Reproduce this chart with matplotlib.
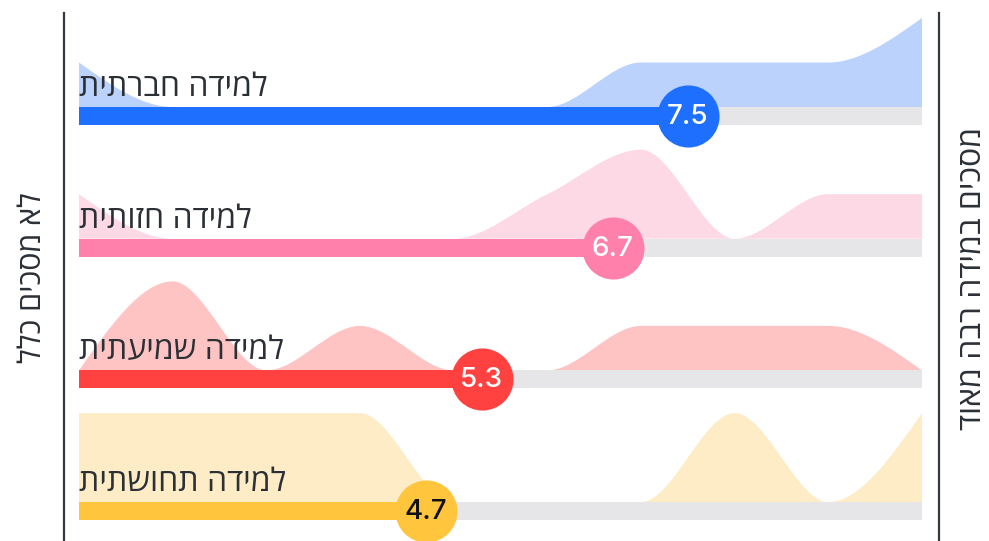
import numpy as np
import matplotlib
matplotlib.use("Agg")
from matplotlib import pyplot as plt
from matplotlib.path import Path
from matplotlib.patches import PathPatch

# scale 1..10, number of answers per score
scores = [1, 2, 3, 4, 5, 6, 7, 8, 9, 10]
labels = ["למידה חברתית", "למידה חזותית", "למידה שמיעתית", "למידה תחושתית"]
counts_social = [1, 0, 0, 0, 0, 0, 1, 1, 1, 2]
counts_visual = [1, 0, 0, 0, 0, 1, 2, 0, 1, 1]
counts_audio = [0, 2, 0, 1, 0, 0, 1, 1, 1, 0]
counts_touch = [2, 2, 2, 2, 0, 0, 0, 2, 0, 2]
means = [7.5, 6.7, 5.3, 4.7]
left_title = "לא מסכים כלל"
right_title = "מסכים במידה רבה מאוד"

bar_colors = ["#1f6ffe", "#ff80aa", "#ff4240", "#ffc53d"]
area_colors = ["#bad2fc", "#fdd8e5", "#fec4c4", "#fdecc5"]
num_colors = ["white", "white", "white", "#111111"]
heb_font = ["Open Sans", "DejaVu Sans"]


def rtl(s):
    # matplotlib has no bidi, so put hebrew in visual order
    return s[::-1]


def monotone_path(x, y):
    # same shape as d3.curveMonotoneX
    x = np.asarray(x, float)
    y = np.asarray(y, float)
    n = len(x)
    h = np.diff(x)
    s = np.diff(y) / h
    t = np.zeros(n)
    for i in range(1, n - 1):
        p = (s[i - 1] * h[i] + s[i] * h[i - 1]) / (h[i - 1] + h[i])
        t[i] = (np.sign(s[i - 1]) + np.sign(s[i])) * min(abs(s[i - 1]), abs(s[i]), 0.5 * abs(p))
    t[0] = (3 * s[0] - t[1]) / 2
    t[-1] = (3 * s[-1] - t[-2]) / 2
    verts = [(x[0], y[0])]
    codes = [Path.MOVETO]
    for i in range(n - 1):
        d = h[i] / 3
        verts += [(x[i] + d, y[i] + d * t[i]), (x[i + 1] - d, y[i + 1] - d * t[i + 1]), (x[i + 1], y[i + 1])]
        codes += [Path.CURVE4] * 3
    return verts, codes


fig = plt.figure(figsize=(9.89, 5.41), dpi=100)
ax = fig.add_axes([0, 0, 1, 1])
px = (922 - 79) / 9
ax.set_xlim(1 - 79 / px, 10 + 67 / px)
ax.set_ylim(541, 0)
ax.axis("off")

all_counts = [counts_social, counts_visual, counts_audio, counts_touch]
row_top = 107
row_gap = 131.7
unit_h = 44.5
bar_h = 18

for i, cnt in enumerate(all_counts):
    base = row_top + i * row_gap
    yy = [base - c * unit_h for c in cnt]
    verts, codes = monotone_path(scores, yy)
    verts += [(scores[-1], base), (scores[0], base), (scores[0], yy[0])]
    codes += [Path.LINETO, Path.LINETO, Path.CLOSEPOLY]
    ax.add_patch(PathPatch(Path(verts, codes), facecolor=area_colors[i], edgecolor="none", zorder=1))

    ax.barh(base + bar_h / 2, scores[-1] - scores[0], left=scores[0], height=bar_h,
            color="#e6e6e8", zorder=2)
    ax.barh(base + bar_h / 2, means[i] - scores[0], left=scores[0], height=bar_h,
            color=bar_colors[i], zorder=3)
    ax.scatter([means[i]], [base + bar_h / 2], s=2000, color=bar_colors[i], zorder=4, linewidths=0)
    ax.text(means[i], base + bar_h / 2 + 1, f"{means[i]:.1f}", ha="center", va="center",
            fontsize=20, color=num_colors[i], family=["Inter", "Liberation Sans"],
            fontweight="medium", zorder=5)
    ax.text(scores[0], base - 11, rtl(labels[i]), ha="left", va="baseline",
            fontsize=23, color="#2b2f36", family=heb_font, zorder=5)

ax.plot([1 + (64 - 79) / px] * 2, [13, 541], color="#353a42", lw=1.6, zorder=6)
ax.plot([10 + (939 - 922) / px] * 2, [13, 541], color="#353a42", lw=1.6, zorder=6)
ax.text(1 + (33 - 79) / px, 278, rtl(left_title), rotation=90, ha="center", va="center",
        fontsize=22, color="#2b2f36", family=heb_font)
ax.text(10 + (972 - 922) / px, 278, rtl(right_title), rotation=90, ha="center", va="center",
        fontsize=23, color="#2b2f36", family=heb_font)

fig.savefig("out.png", dpi=100)
